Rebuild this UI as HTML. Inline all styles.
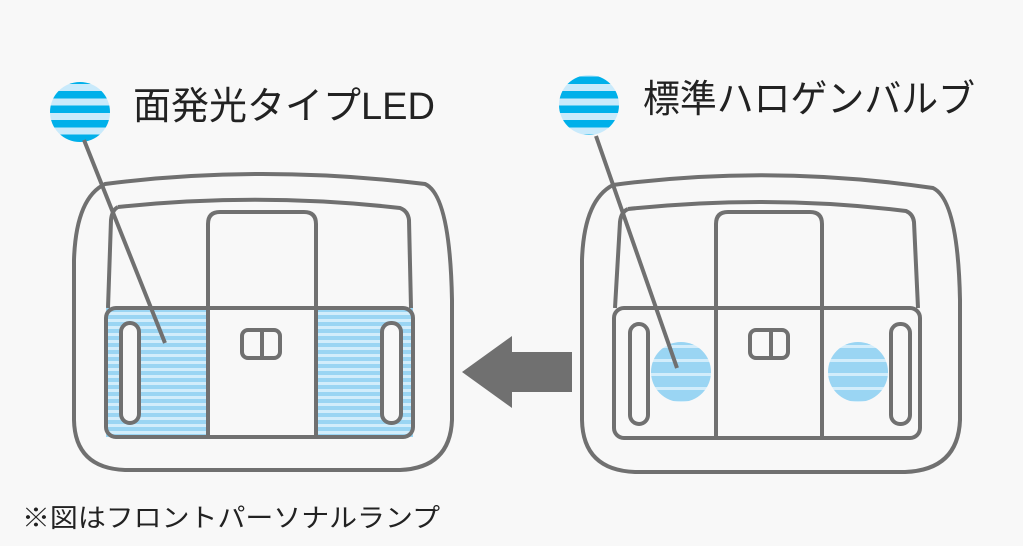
<!DOCTYPE html>
<html><head><meta charset="utf-8"><style>
html,body{margin:0;padding:0;background:#f8f8f8;}
svg{display:block}
text{font-family:"Liberation Sans","Noto Sans CJK JP",sans-serif;fill:#222}
</style></head><body>
<svg width="1023" height="546" viewBox="0 0 1023 546" xmlns="http://www.w3.org/2000/svg">
<defs>
<pattern id="bub" patternUnits="userSpaceOnUse" x="0" y="84" width="10" height="14.5">
<rect width="10" height="14.5" fill="#c9eafb"/><rect y="7" width="10" height="7.5" fill="#00b0ea"/>
</pattern>
<pattern id="lamp" patternUnits="userSpaceOnUse" x="0" y="0" width="10" height="7">
<rect width="10" height="7" fill="#9ad5f3"/><rect y="4" width="10" height="3" fill="#d2edfb"/>
</pattern>
<pattern id="lamp2" patternUnits="userSpaceOnUse" x="0" y="0" width="10" height="14">
<rect width="10" height="14" fill="#9ad5f3"/><rect y="9" width="10" height="3" fill="#d2edfb"/>
</pattern>
</defs>
<rect width="1023" height="546" fill="#f8f8f8"/>

<g fill="none" stroke="#707070" stroke-width="4" stroke-linejoin="round">
<path d="M105,184 Q260,164 425,184 Q450,195 452,300 L452,420 Q450,468 400,470 L125,470 Q75,468 74,420 L74,260 Q76,198 105,184 Z"/>
<path d="M118,207 Q260,192 400,208 Q408,211 409,220 L411,308"/>
<path d="M118,207 Q112,210 111,220 L108,308"/>
</g>
<rect x="106" y="308" width="102" height="129" fill="url(#lamp)"/>
<rect x="316" y="308" width="97" height="129" fill="url(#lamp)"/>
<g fill="none" stroke="#707070" stroke-width="4" stroke-linejoin="round">
<rect x="106" y="308" width="307" height="129" rx="10"/>
<path d="M208,437 L208,224 Q208,212 220,212 L304,212 Q316,212 316,224 L316,437"/>
<rect x="121" y="323" width="18" height="100" rx="9" fill="#f8f8f8"/>
<rect x="382" y="323" width="19" height="100" rx="9" fill="#f8f8f8"/>
<rect x="242" y="330" width="38" height="28" rx="6" fill="#f8f8f8"/>
<line x1="262" y1="331" x2="262" y2="357"/>
</g>
<circle cx="80" cy="112" r="30" fill="url(#bub)"/>
<line x1="84" y1="140" x2="165" y2="343" stroke="#707070" stroke-width="4"/>
<text x="133" y="119" font-size="38">面発光タイプLED</text>

<!-- RIGHT LAMP -->
<g fill="none" stroke="#707070" stroke-width="4" stroke-linejoin="round">
<path d="M613,185 Q770,164 933,188 Q958,200 960,300 L960,420 Q958,470 905,472 L635,472 Q583,470 582,420 L582,260 Q584,200 613,185 Z"/>
<path d="M628,209 Q770,194 906,211 Q913,214 914,222 L918,308"/>
<path d="M628,209 Q621,212 620,222 L615,308"/>
<rect x="614" y="308" width="306" height="130" rx="10"/>
<path d="M716,438 L716,224 Q716,212 728,212 L810,212 Q822,212 822,224 L822,438"/>
<rect x="630" y="324" width="18" height="100" rx="9"/>
<rect x="891" y="324" width="19" height="100" rx="9"/>
<rect x="750" y="330" width="38" height="28" rx="6"/>
<line x1="771" y1="331" x2="771" y2="357"/>
</g>
<circle cx="681" cy="372" r="30" fill="url(#lamp2)"/>
<circle cx="858" cy="372" r="30" fill="url(#lamp2)"/>
<circle cx="589" cy="105" r="30" fill="url(#bub)"/>
<line x1="596" y1="136" x2="677" y2="368" stroke="#707070" stroke-width="4"/>
<text x="643" y="112" font-size="38" textLength="332" lengthAdjust="spacingAndGlyphs">標準ハロゲンバルブ</text>

<!-- ARROW -->
<path d="M462,372 L512,336 L512,352 L572,352 L572,392 L512,392 L512,408 Z" fill="#707070"/>

<text x="22" y="527" font-size="26" textLength="418" lengthAdjust="spacingAndGlyphs">※図はフロントパーソナルランプ</text>
</svg>
</body></html>
